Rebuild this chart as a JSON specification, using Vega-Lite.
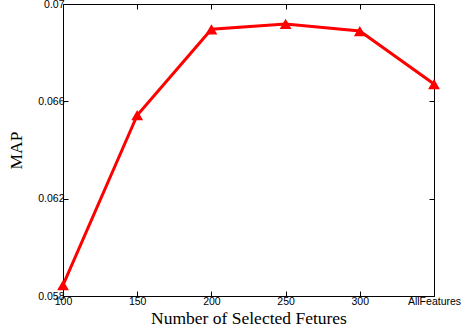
{
  "$schema": "https://vega.github.io/schema/vega-lite/v6.json",
  "width": 371,
  "height": 292,
  "autosize": {"type": "none"},
  "padding": {"left": 63, "top": 4, "right": 27, "bottom": 39},
  "background": "white",
  "config": {
    "view": {"stroke": "black", "strokeWidth": 1},
    "axis": {
      "grid": false,
      "domain": false,
      "tickColor": "black",
      "tickSize": -5,
      "tickWidth": 1,
      "labelFont": "Liberation Sans",
      "labelFontSize": 10.5,
      "labelColor": "black",
      "titleFont": "Liberation Serif",
      "titleFontSize": 17.5,
      "titleFontWeight": "normal",
      "titleColor": "black"
    }
  },
  "data": {
    "values": [
      {"features": "100", "map": 0.05845},
      {"features": "150", "map": 0.06543},
      {"features": "200", "map": 0.06896},
      {"features": "250", "map": 0.06918},
      {"features": "300", "map": 0.06889},
      {"features": "AllFeatures", "map": 0.06671}
    ]
  },
  "layer": [
    {
      "mark": {"type": "line", "color": "#ff0000", "strokeWidth": 3, "point": {"shape": "triangle-up", "size": 140, "filled": true, "color": "#ff0000", "opacity": 1}},
      "encoding": {
        "x": {
          "field": "features", "type": "ordinal",
          "scale": {"type": "point", "padding": 0},
          "sort": null,
          "axis": {"orient": "bottom", "labelAngle": 0, "labelPadding": 5, "title": "Number of Selected Fetures", "titlePadding": 3}
        },
        "y": {
          "field": "map", "type": "quantitative",
          "scale": {"domain": [0.058, 0.07], "nice": false, "zero": false},
          "axis": {"orient": "left", "values": [0.058, 0.062, 0.066, 0.07], "format": "~g", "labelPadding": 4, "title": "MAP", "titlePadding": 12}
        }
      }
    },
    {
      "mark": {"type": "point", "opacity": 0},
      "encoding": {
        "x": {
          "field": "features", "type": "ordinal",
          "scale": {"type": "point", "padding": 0},
          "sort": null,
          "axis": {"orient": "top", "labels": false, "title": null}
        },
        "y": {
          "field": "map", "type": "quantitative",
          "scale": {"domain": [0.058, 0.07], "nice": false, "zero": false},
          "axis": {"orient": "right", "values": [0.058, 0.062, 0.066, 0.07], "labels": false, "title": null}
        }
      }
    }
  ],
  "resolve": {"axis": {"x": "independent", "y": "independent"}}
}
